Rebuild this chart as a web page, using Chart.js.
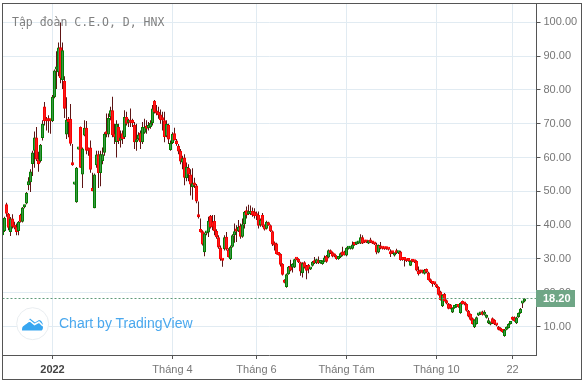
<!DOCTYPE html>
<html>
<head>
<meta charset="utf-8">
<style>
    html, body { margin: 0; padding: 0; background: #fff; }
    #wrap { position: relative; width: 588px; height: 384px; overflow: hidden; }
    #chart { position: absolute; left: 0; top: 0; }
    #title { position: absolute; left: 12px; top: 15px; font: 11.5px "DejaVu Sans Mono", monospace; color: #808080; white-space: pre; }
    #logo { position: absolute; left: 16px; top: 307px; }
    #brand { position: absolute; left: 59px; top: 315px; font: 14px "Liberation Sans", sans-serif; color: #4aa8ee; white-space: pre; }
</style>
</head>
<body>
<div id="wrap">
    <canvas id="chart" width="588" height="384"></canvas>
    <div id="title">Tập đoàn C.E.O, D, HNX</div>
    <svg id="logo" width="34" height="34" viewBox="0 0 34 34">
        <circle cx="16.7" cy="16.7" r="16" fill="#fff" stroke="#e9edf0"/>
        <path d="M6 23.5 C6 19 8 17 10.5 16.5 L14 11.5 L19 15.5 L23 13 C25 13 27 16 27 18.5 C27 21 27 23.5 25 23.5 Z" fill="#38a6f0"/>
        <path d="M6 19 L13.5 13.5 L18.5 17.5 L23 15 L27 19" fill="none" stroke="#fff" stroke-width="1.6"/>
    </svg>
    <div id="brand">Chart by TradingView</div>
</div>
<script src="https://cdn.jsdelivr.net/npm/chart.js@4"></script>
<script>
const opens = [
    37.0,38.3,46.2,43.4,38.0,42.0,40.0,39.5,38.3,43.0,
    41.0,45.3,46.4,51.8,52.7,58.1,62.0,65.9,59.5,59.0,
    65.8,75.1,71.0,71.0,71.0,70.8,77.8,86.0,85.2,92.6,
    82.9,82.6,66.8,71.0,71.5,57.9,52.0,46.8,62.4,69.0,
    55.0,66.5,68.8,62.5,63.0,51.0,45.0,57.7,61.0,55.4,
    59.0,61.4,67.2,66.8,72.0,74.0,67.0,64.6,69.0,65.0,
    67.2,66.0,72.0,70.3,70.5,70.8,69.7,64.5,65.5,67.3,
    64.5,67.3,69.0,68.7,69.0,70.2,76.8,73.6,73.5,72.7,
    71.2,71.0,66.3,69.6,62.2,64.3,67.2,65.0,63.5,62.0,
    58.5,60.0,53.9,57.0,55.0,51.2,52.4,51.7,42.8,38.2,
    38.2,32.0,37.5,37.8,42.8,41.0,41.2,38.3,36.4,33.4,
    29.9,32.9,36.6,32.8,29.9,33.6,37.0,38.5,38.2,39.8,
    36.6,40.3,44.4,43.2,43.3,44.2,44.0,42.9,43.0,40.0,
    43.0,40.0,38.9,40.8,40.0,38.2,34.6,34.6,31.8,31.5,
    28.5,23.8,21.7,25.5,28.0,27.5,27.5,30.0,30.0,29.0,
    25.8,29.0,28.0,28.3,26.9,28.0,29.4,28.7,29.0,28.8,
    28.5,29.2,30.9,30.4,32.6,32.0,31.4,30.9,30.0,30.5,
    32.2,32.2,31.0,33.0,33.0,33.0,34.6,34.3,34.6,34.6,
    36.4,35.3,35.3,34.6,35.3,35.1,34.7,34.3,31.9,33.9,
    33.3,33.2,33.4,32.9,31.9,32.1,31.0,32.2,31.7,32.2,
    30.0,29.9,29.8,30.0,28.0,29.7,29.4,29.4,26.6,26.6,
    26.6,25.6,27.0,26.0,24.0,23.2,22.8,22.5,21.7,20.4,
    16.0,19.7,17.8,16.8,16.5,14.2,15.5,15.8,16.4,14.0,
    17.5,17.0,16.7,14.7,13.7,12.5,9.8,10.8,13.3,13.6,
    14.5,13.5,12.6,11.0,10.6,12.5,12.0,10.5,10.0,9.6,
    8.9,7.2,9.1,9.6,10.8,12.8,12.8,11.0,12.8,14.0,
    16.8,17.4
];
const closes = [
    38.5,42.2,43.4,39.2,42.0,39.5,39.2,38.0,41.0,41.0,
    45.2,45.6,49.6,53.0,55.9,61.5,65.9,59.4,58.0,63.8,
    70.0,70.8,70.7,70.7,70.7,78.0,85.7,86.2,92.5,83.5,
    91.7,74.4,71.2,70.5,64.1,57.7,52.3,57.0,62.7,57.0,
    62.7,68.8,62.0,62.0,56.4,50.0,55.0,60.9,55.4,61.0,
    61.0,67.0,66.9,71.7,74.0,66.6,66.0,70.0,64.9,65.5,
    65.5,72.0,70.0,70.7,70.3,70.2,64.5,65.3,66.8,64.5,
    69.0,69.0,68.5,69.0,70.2,74.5,73.4,73.0,72.5,71.0,
    71.0,66.1,70.0,65.3,64.3,67.0,65.2,64.0,61.8,58.8,
    59.8,54.0,57.3,55.0,52.0,52.4,51.7,47.0,42.3,38.0,
    34.3,37.5,37.8,41.3,39.3,39.5,38.2,36.4,33.4,29.9,
    29.5,36.4,32.8,30.6,33.6,37.0,38.2,38.1,39.5,36.6,
    40.3,43.9,42.9,43.5,43.7,42.9,42.7,42.6,39.8,41.5,
    39.8,38.7,41.0,40.0,38.2,34.3,34.0,31.5,31.2,28.3,
    25.3,23.0,25.5,27.7,26.6,28.5,29.9,29.8,29.0,26.3,
    28.7,27.5,26.5,27.0,27.2,29.2,28.7,29.9,28.7,29.0,
    29.4,30.4,29.2,32.6,31.7,30.7,30.7,30.0,30.7,31.7,
    31.0,31.2,33.3,33.3,33.3,34.3,34.1,34.9,35.0,36.4,
    34.6,34.9,34.9,35.3,34.9,34.6,34.3,31.9,34.1,33.1,
    33.0,32.9,32.9,32.7,31.4,31.7,31.7,31.7,32.0,29.7,
    29.7,29.7,29.3,29.4,29.4,29.2,29.0,26.6,25.5,26.0,
    25.9,26.8,26.0,23.8,23.1,22.6,22.5,21.6,19.4,17.9,
    19.4,17.6,16.8,15.3,15.3,15.5,16.0,16.3,15.8,17.0,
    16.7,16.5,14.7,13.0,12.0,10.8,12.0,12.8,13.7,14.0,
    13.5,14.3,12.8,11.2,11.2,11.0,10.7,10.3,9.1,8.8,
    8.4,9.1,9.8,10.8,11.3,12.0,11.6,12.7,14.0,15.3,
    17.0,18.2
];
const highs = [
    38.8,42.5,46.6,43.6,42.4,43.2,41.0,40.5,41.2,43.4,
    45.4,46.0,49.8,54.2,56.5,62.0,67.7,69.0,61.7,64.0,
    71.0,76.4,72.0,72.5,71.5,78.5,86.0,91.4,94.0,99.9,
    94.0,84.0,77.8,72.0,75.8,64.0,52.3,57.2,62.7,69.2,
    63.0,71.0,70.8,63.0,65.0,55.5,55.3,62.0,62.0,62.0,
    63.0,67.5,73.0,73.0,75.0,78.0,70.0,71.0,70.0,68.0,
    68.0,74.0,73.5,71.5,74.5,71.5,70.5,70.0,67.5,68.0,
    70.5,71.5,71.0,70.5,71.0,75.5,77.0,75.5,75.0,74.2,
    73.5,73.5,71.0,70.0,65.0,67.5,68.8,65.5,64.0,62.5,
    60.5,61.0,58.5,58.0,56.5,56.8,54.0,52.2,47.0,42.0,
    38.5,37.8,38.0,42.5,43.0,43.0,43.0,38.8,37.0,34.0,
    30.0,37.0,38.0,33.2,34.0,37.3,40.5,40.0,41.5,40.5,
    42.0,44.2,45.5,46.0,45.8,45.2,45.0,44.0,44.0,42.0,
    43.6,40.2,41.3,41.0,40.2,38.4,35.2,34.8,32.0,31.7,
    28.7,24.0,25.7,27.9,29.8,28.7,30.1,30.2,30.2,29.2,
    29.0,29.3,28.2,28.5,27.4,29.4,30.6,30.1,30.7,29.2,
    29.6,31.0,31.2,32.8,32.8,32.2,31.6,31.1,30.9,31.9,
    33.6,32.4,33.5,33.5,33.5,35.2,34.8,35.1,35.2,37.3,
    37.0,35.5,35.5,35.5,36.3,35.3,34.9,34.8,34.3,35.0,
    33.5,33.4,33.6,33.1,32.9,32.3,31.9,33.0,32.2,32.4,
    30.2,30.1,30.0,30.2,29.6,29.9,29.6,29.6,27.8,26.8,
    26.8,27.0,27.2,26.2,24.2,23.4,23.0,22.7,21.9,20.6,
    19.6,19.9,18.0,17.0,16.7,15.7,16.2,16.5,16.6,17.2,
    17.7,17.2,16.9,14.9,13.9,12.7,12.2,13.0,13.9,14.2,
    14.7,14.8,13.6,12.6,11.4,12.7,12.2,10.7,10.2,9.8,
    9.1,9.3,10.0,11.0,11.5,13.0,13.0,12.9,14.2,15.5,
    17.1,18.4
];
const lows = [
    35.5,38.0,42.5,38.5,36.8,39.0,38.8,37.0,37.0,40.8,
    40.8,45.0,46.2,50.3,49.8,54.5,57.0,59.0,55.8,58.5,
    65.0,69.5,68.0,67.3,67.0,70.5,77.5,80.3,84.0,82.0,
    80.3,71.7,65.5,66.0,63.5,57.6,52.0,46.6,62.4,57.0,
    51.0,66.3,61.0,60.5,55.5,50.0,45.0,57.0,51.0,51.5,
    58.0,60.5,66.0,66.0,71.0,66.0,64.0,60.0,64.0,63.0,
    64.0,65.5,69.5,69.0,69.0,69.0,62.5,62.0,65.0,62.5,
    64.0,67.0,67.0,68.0,68.5,69.5,73.0,72.5,71.5,70.0,
    68.0,64.5,66.0,64.0,62.0,64.0,65.0,63.5,61.0,58.0,
    56.5,51.8,53.0,53.0,48.8,47.5,51.0,46.5,42.0,37.8,
    34.0,30.8,37.0,36.5,39.0,38.5,37.0,36.0,33.0,29.5,
    27.7,32.5,32.5,30.4,29.7,33.4,34.8,35.0,38.0,36.0,
    36.3,39.0,42.0,43.0,43.0,42.5,42.0,41.5,39.0,39.5,
    39.4,38.4,38.7,39.8,38.0,33.8,32.5,31.3,31.0,27.8,
    25.1,22.8,21.5,25.3,26.4,26.0,27.3,29.6,28.8,25.0,
    24.5,27.2,24.0,25.8,26.7,27.8,28.5,28.5,28.5,28.6,
    28.3,29.0,28.9,30.2,31.5,30.5,30.5,29.8,29.8,30.3,
    30.8,31.0,30.8,32.8,32.8,32.8,33.9,34.1,34.4,34.4,
    34.4,34.7,34.7,34.4,34.7,34.4,34.1,31.4,31.7,32.9,
    32.8,32.7,32.7,32.5,30.6,31.5,30.7,31.5,31.5,29.5,
    29.5,27.8,29.1,29.2,27.9,29.0,28.8,26.4,25.1,25.7,
    25.7,25.4,25.8,23.6,22.9,21.8,22.3,21.4,19.2,17.7,
    15.8,17.4,16.6,15.1,15.1,14.0,15.3,15.6,15.6,13.8,
    16.5,16.3,14.5,12.8,11.8,10.6,9.6,10.6,13.1,13.4,
    13.3,13.3,12.4,10.8,10.4,10.8,10.5,10.1,8.9,8.6,
    8.2,7.0,8.9,9.4,10.6,11.8,11.4,10.8,12.6,13.8,
    15.5,17.2
];
const barSlots = 268;
const xTickSlots = [25, 85, 127, 172, 217, 255];
const xTickLabels = ['2022', 'Tháng 4', 'Tháng 6', 'Tháng Tám', 'Tháng 10', '22'];
const yTicks = [10, 20, 30, 40, 50, 60, 70, 80, 90, 100];
const lastPrice = 18.2;

const labels = Array.from({ length: barSlots }, (_, i) => i);
const isUp = i => closes[i] >= opens[i];

// Dashed last price line, price tag and outer frame.
const overlay = {
    id: 'overlay',
    afterDraw(chart) {
        const { ctx, chartArea, scales } = chart;
        const y = Math.round(scales.y.getPixelForValue(lastPrice)) - 0.5;
        ctx.save();
        ctx.strokeStyle = '#5f9a78';
        ctx.setLineDash([2, 2]);
        ctx.beginPath();
        ctx.moveTo(chartArea.left, y);
        ctx.lineTo(chartArea.right, y);
        ctx.stroke();
        ctx.setLineDash([]);
        ctx.fillStyle = '#6fa686';
        ctx.fillRect(536, y - 8.5, 39, 17);
        ctx.fillStyle = '#fff';
        ctx.font = 'bold 11px "Liberation Sans"';
        ctx.textAlign = 'left';
        ctx.textBaseline = 'middle';
        ctx.fillText(lastPrice.toFixed(2), 543, y + 0.5);
        ctx.strokeStyle = '#555';
        ctx.strokeRect(2.5, 3.5, 579, 376);
        ctx.restore();
    },
};

new Chart(document.getElementById('chart'), {
    type: 'bar',
    data: {
        labels: labels,
        datasets: [
            {
                data: opens.map((_, i) => [lows[i], highs[i]]),
                backgroundColor: '#5e1515',
                borderWidth: 0,
                barThickness: 1,
                inflateAmount: 0,
                grouped: false,
                order: 2,
            },
            {
                data: opens.map((o, i) => [o, closes[i]]),
                backgroundColor: ctx => isUp(ctx.dataIndex) ? '#3f9448' : '#f02020',
                borderColor: ctx => isUp(ctx.dataIndex) ? '#008000' : '#ff0000',
                borderWidth: 1,
                borderSkipped: false,
                barThickness: 3,
                minBarLength: 3,
                inflateAmount: 0,
                grouped: false,
                order: 1,
            },
        ],
    },
    options: {
        responsive: false,
        animation: false,
        events: [],
        layout: { padding: { left: 2.5, top: 4, right: 5.5, bottom: 4 } },
        plugins: {
            legend: { display: false },
            tooltip: { enabled: false },
        },
        scales: {
            x: {
                type: 'category',
                offset: false,
                afterBuildTicks: axis => { axis.ticks = xTickSlots.map(value => ({ value })); },
                afterFit: axis => { axis.height = 25; axis.paddingLeft = 0; axis.paddingRight = 0; },
                border: { color: '#555' },
                grid: { color: '#e1ebf2', tickColor: '#555', tickLength: 4, offset: false },
                ticks: {
                    autoSkip: false,
                    maxRotation: 0,
                    padding: 4,
                    callback: (value, index) => xTickLabels[index],
                    color: ctx => ctx.index === 0 ? '#444' : '#777',
                    font: ctx => ({ family: '"Liberation Sans"', size: 11, weight: ctx.index === 0 ? 'bold' : 'normal' }),
                },
            },
            y: {
                position: 'right',
                min: 1.6,
                max: 105.4,
                afterBuildTicks: axis => { axis.ticks = yTicks.map(value => ({ value })); },
                afterFit: axis => { axis.width = 46; axis.paddingTop = 0; axis.paddingBottom = 0; },
                border: { color: '#555' },
                grid: { color: '#e1ebf2', tickColor: '#555', tickLength: 4 },
                ticks: {
                    padding: 3,
                    callback: value => value.toFixed(2),
                    color: '#777',
                    font: { family: '"Liberation Sans"', size: 11 },
                },
            },
        },
    },
    plugins: [overlay],
});
</script>
</body>
</html>
